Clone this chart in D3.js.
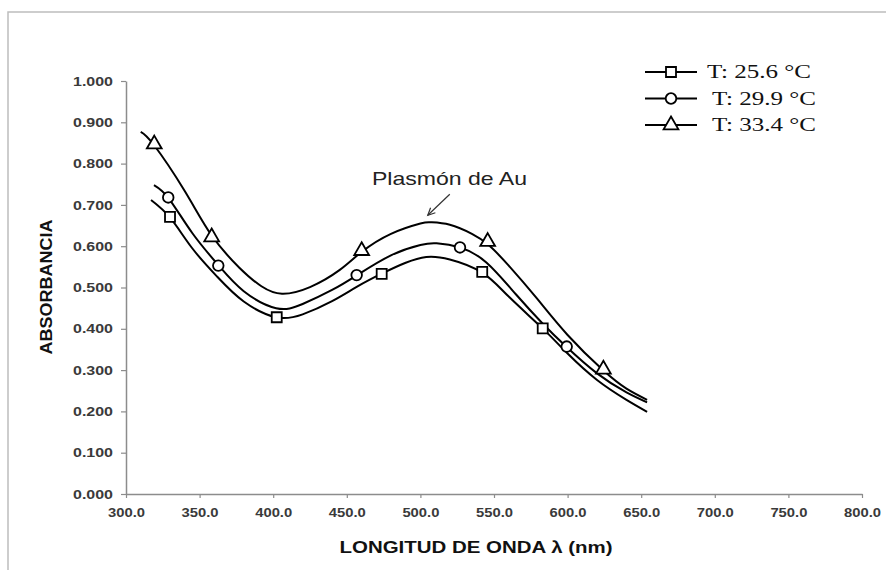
<!DOCTYPE html>
<html><head><meta charset="utf-8">
<script src="https://cdn.jsdelivr.net/npm/d3@7/dist/d3.min.js"></script>
<style>body{margin:0;background:#fff}svg{display:block}</style>
</head><body>
<svg id="c" width="886" height="570"></svg>
<script>
// ---- data ----
const seriesNames = ["T: 25.6 °C", "T: 29.9 °C", "T: 33.4 °C"];
const seriesSymbols = ["square", "circle", "triangle"];
// measured points (nm, absorbance)
const pts256 = [[329.9,0.671],[402.4,0.428],[473.7,0.533],[542.0,0.538],[583.1,0.401]];
const pts299 = [[328.7,0.718],[362.7,0.553],[456.7,0.530],[526.9,0.597],[599.4,0.357]];
const pts334 = [[319.2,0.847],[358.2,0.622],[460.1,0.589],[545.7,0.611],[624.3,0.302]];
// fitted curves (nm, absorbance)
const fit256 = [[317,0.712],[330,0.669],[345,0.595],[362,0.526],[380,0.466],[402,0.428],[420,0.435],[440,0.467],[457,0.502],[474,0.534],[490,0.560],[504,0.574],[520,0.568],[542,0.536],[560,0.478],[583,0.401],[600,0.340],[620,0.276],[640,0.228],[654,0.199]];
const fit299 = [[319,0.748],[329,0.716],[345,0.632],[363,0.553],[380,0.491],[402,0.450],[420,0.460],[440,0.494],[457,0.530],[480,0.578],[500,0.603],[511,0.607],[527,0.597],[545,0.560],[565,0.483],[583,0.413],[599,0.357],[620,0.292],[640,0.246],[654,0.222]];
const fit334 = [[310,0.877],[319,0.845],[340,0.733],[358,0.627],[377,0.548],[392,0.503],[406,0.485],[425,0.501],[445,0.542],[460,0.586],[480,0.630],[500,0.655],[507,0.658],[520,0.652],[535,0.630],[546,0.604],[560,0.553],[579,0.474],[600,0.385],[624,0.300],[640,0.255],[654,0.228]];
const xTickVals = [300,350,400,450,500,550,600,650,700,750,800];
const yTickVals = [0,0.1,0.2,0.3,0.4,0.5,0.6,0.7,0.8,0.9,1.0];
const xTitle = "LONGITUD DE ONDA λ (nm)";
const yTitle = "ABSORBANCIA";
const annotText = "Plasmón de Au";
const annotPoint = [505, 0.675];

const series = [
  {name: seriesNames[0], sym: seriesSymbols[0], pts: pts256, fit: fit256},
  {name: seriesNames[1], sym: seriesSymbols[1], pts: pts299, fit: fit299},
  {name: seriesNames[2], sym: seriesSymbols[2], pts: pts334, fit: fit334}
];

// ---- layout ----
const svg = d3.select("#c");
const L = 126, R = 862, T = 81, B = 494;
const x = d3.scaleLinear().domain([300,800]).range([L,R]);
const y = d3.scaleLinear().domain([0,1]).range([B,T]);

// outer border
svg.append("rect").attr("x",8).attr("y",12).attr("width",900).attr("height",600)
  .attr("fill","none").attr("stroke","#bdbdbd").attr("stroke-width",1.5);

// axes
const axisColor = "#8c8c8c";
const gx = svg.append("g").attr("transform",`translate(0,${B})`)
  .call(d3.axisBottom(x).tickValues(xTickVals).tickFormat(d3.format(".1f")).tickSizeOuter(0).tickSizeInner(4).tickPadding(10));
const gy = svg.append("g").attr("transform",`translate(${L},0)`)
  .call(d3.axisLeft(y).tickValues(yTickVals).tickFormat(d3.format(".3f")).tickSizeOuter(0).tickSizeInner(5).tickPadding(8));
[gx,gy].forEach(g=>{
  g.select(".domain").attr("stroke",axisColor).attr("stroke-width",1.5);
  g.selectAll(".tick line").attr("stroke",axisColor).attr("stroke-width",1.2);
  g.selectAll(".tick text").attr("fill","#3a3a3a").attr("font-family","Liberation Sans, Arial, sans-serif")
    .attr("font-weight","bold").attr("font-size",13);
});
gx.selectAll(".tick text").attr("textLength",37).attr("lengthAdjust","spacingAndGlyphs");
gy.selectAll(".tick text").attr("textLength",40).attr("lengthAdjust","spacingAndGlyphs");

// axis titles
svg.append("text").attr("x",476).attr("y",553).attr("text-anchor","middle")
  .attr("font-family","Liberation Sans, Arial, sans-serif").attr("font-weight","bold").attr("font-size",17)
  .attr("fill","#111").attr("textLength",273).attr("lengthAdjust","spacingAndGlyphs").text(xTitle);
svg.append("text").attr("transform","translate(52,287) rotate(-90)").attr("text-anchor","middle")
  .attr("font-family","Liberation Sans, Arial, sans-serif").attr("font-weight","bold").attr("font-size",16)
  .attr("fill","#111").attr("textLength",135).attr("lengthAdjust","spacingAndGlyphs").text(yTitle);

// curves
const line = d3.line().x(d=>x(d[0])).y(d=>y(d[1])).curve(d3.curveNatural);
series.forEach(s=>{
  svg.append("path").attr("d",line(s.fit)).attr("fill","none").attr("stroke","#000").attr("stroke-width",2);
});

// markers
const symMap = {square: d3.symbolSquare, circle: d3.symbolCircle, triangle: d3.symbolTriangle};
const symSize = {square: 100, circle: 88, triangle: 95};
function marker(g, sym, cx, cy){
  g.append("path").attr("d", d3.symbol().type(symMap[sym]).size(symSize[sym])())
   .attr("transform",`translate(${cx},${cy})`)
   .attr("fill","#fff").attr("stroke","#000").attr("stroke-width",1.8);
}
series.forEach(s=>{
  const g = svg.append("g");
  s.pts.forEach(p=>marker(g, s.sym, x(p[0]), y(p[1])));
});

// legend
const legRows = [72, 98.5, 125];
const legTextX = [707, 712, 712];
series.forEach((s,i)=>{
  const g = svg.append("g");
  g.append("line").attr("x1",645).attr("x2",697).attr("y1",legRows[i]).attr("y2",legRows[i])
   .attr("stroke","#000").attr("stroke-width",2);
  marker(g, s.sym, 671, legRows[i]);
  g.append("text").attr("x",legTextX[i]).attr("y",legRows[i]+6)
   .attr("font-family","Liberation Serif, Times New Roman, serif").attr("font-size",19)
   .attr("fill","#111").attr("textLength",104).attr("lengthAdjust","spacingAndGlyphs").text(s.name);
});

// annotation
svg.append("text").attr("x",372).attr("y",185)
  .attr("font-family","Liberation Sans, Arial, sans-serif").attr("font-size",19).attr("fill","#222")
  .attr("textLength",155).attr("lengthAdjust","spacingAndGlyphs").text(annotText);
const ax0 = x(annotPoint[0]) + 22, ay0 = y(annotPoint[1]) - 21;
const ax1 = x(annotPoint[0]), ay1 = y(annotPoint[1]);
svg.append("line").attr("x1",ax0).attr("y1",ay0).attr("x2",ax1).attr("y2",ay1)
  .attr("stroke","#333").attr("stroke-width",1.2);
const ang = Math.atan2(ay1-ay0, ax1-ax0);
const hl = 8, ha = 0.45;
svg.append("path").attr("d",`M${ax1-hl*Math.cos(ang-ha)},${ay1-hl*Math.sin(ang-ha)}L${ax1},${ay1}L${ax1-hl*Math.cos(ang+ha)},${ay1-hl*Math.sin(ang+ha)}`)
  .attr("fill","none").attr("stroke","#333").attr("stroke-width",1.2);
</script>
</body></html>
